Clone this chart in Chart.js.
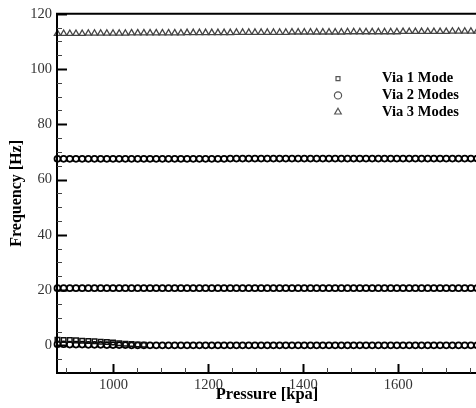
<!DOCTYPE html>
<html>
<head>
<meta charset="utf-8">
<script src="https://cdn.jsdelivr.net/npm/chart.js@4/dist/chart.umd.min.js"></script>
<style>
  html, body { margin: 0; padding: 0; background: #fff; overflow: hidden; }
  #wrap { position: relative; width: 482px; height: 408px; }
</style>
</head>
<body>
<div id="wrap"><canvas id="c" width="482" height="408"></canvas></div>
<script>
// Pressure sweep [kPa]
const pressure = [882, 895, 908, 921, 934, 947, 960, 973, 986, 999, 1012, 1025, 1038, 1051, 1064, 1077,
  1090, 1103, 1116, 1129, 1142, 1155, 1168, 1181, 1194, 1207, 1220, 1233, 1246, 1259, 1272, 1285,
  1298, 1311, 1324, 1337, 1350, 1363, 1376, 1389, 1402, 1415, 1428, 1441, 1454, 1467, 1480, 1493,
  1506, 1519, 1532, 1545, 1558, 1571, 1584, 1597, 1610, 1623, 1636, 1649, 1662, 1675, 1688, 1701,
  1714, 1727, 1740, 1753, 1766];

// Via 1 Mode: only the low-pressure end
const via1Mode = [2.0, 1.9, 1.9, 1.8, 1.7, 1.6, 1.5, 1.3, 1.2, 1.0, 0.8, 0.6, 0.5, 0.3, 0.2];

// Via 2 Modes: first, second and third frequency rows [Hz]
const via2Low = [0.4, 0.4, 0.3, 0.3, 0.3, 0.2, 0.2, 0.2, 0.1, 0.1, 0.1, 0.1, 0, 0, 0, 0,
  0, 0, 0, 0, 0, 0, 0, 0, 0, 0, 0, 0, 0, 0, 0, 0,
  0, 0, 0, 0, 0, 0, 0, 0, 0, 0, 0, 0, 0, 0, 0, 0,
  0, 0, 0, 0, 0, 0, 0, 0, 0, 0, 0, 0, 0, 0, 0, 0,
  0, 0, 0, 0, 0];
const via2Mid = [20.7, 20.7, 20.7, 20.7, 20.7, 20.7, 20.7, 20.7, 20.7, 20.7, 20.7, 20.7, 20.7, 20.7, 20.7, 20.7,
  20.7, 20.7, 20.7, 20.7, 20.7, 20.7, 20.7, 20.7, 20.7, 20.7, 20.7, 20.7, 20.7, 20.7, 20.7, 20.7,
  20.7, 20.7, 20.7, 20.7, 20.7, 20.7, 20.7, 20.7, 20.7, 20.7, 20.7, 20.7, 20.7, 20.7, 20.7, 20.7,
  20.7, 20.7, 20.7, 20.7, 20.7, 20.7, 20.7, 20.7, 20.7, 20.7, 20.7, 20.7, 20.7, 20.7, 20.7, 20.7,
  20.7, 20.7, 20.7, 20.7, 20.7];
const via2High = [67.5, 67.5, 67.5, 67.5, 67.5, 67.5, 67.5, 67.5, 67.5, 67.5, 67.5, 67.5, 67.5, 67.5, 67.5, 67.5,
  67.5, 67.5, 67.5, 67.5, 67.5, 67.5, 67.5, 67.5, 67.5, 67.5, 67.5, 67.5, 67.6, 67.6, 67.6, 67.6,
  67.6, 67.6, 67.6, 67.6, 67.6, 67.6, 67.6, 67.6, 67.6, 67.6, 67.6, 67.6, 67.6, 67.6, 67.6, 67.6,
  67.6, 67.6, 67.6, 67.6, 67.6, 67.6, 67.6, 67.6, 67.6, 67.6, 67.6, 67.6, 67.6, 67.6, 67.6, 67.6,
  67.6, 67.6, 67.6, 67.6, 67.6];

// Via 3 Modes: top row [Hz]
const via3Top = [112.8, 112.8, 112.8, 112.8, 112.8, 112.9, 112.9, 112.9, 112.9, 112.9, 112.9, 112.9, 113.0, 113.0, 113.0, 113.0,
  113.0, 113.0, 113.0, 113.0, 113.0, 113.1, 113.1, 113.1, 113.1, 113.1, 113.1, 113.1, 113.1, 113.2, 113.2, 113.2,
  113.2, 113.2, 113.2, 113.2, 113.2, 113.2, 113.3, 113.3, 113.3, 113.3, 113.3, 113.3, 113.3, 113.3, 113.3, 113.4,
  113.4, 113.4, 113.4, 113.4, 113.4, 113.4, 113.4, 113.4, 113.5, 113.5, 113.5, 113.5, 113.5, 113.5, 113.5, 113.5,
  113.6, 113.6, 113.6, 113.6, 113.6];

const xTickValues = [1000, 1200, 1400, 1600];
const yTickValues = [0, 20, 40, 60, 80, 100, 120];
const legendLabels = ['Via 1 Mode', 'Via 2 Modes', 'Via 3 Modes'];

const SERIF = '"Liberation Serif", "Times New Roman", serif';

function pts(ys) {
  return ys.map((y, i) => ({ x: pressure[i], y: y }));
}

function markerSet(label, ys, style, color, radius, width) {
  return {
    label: label,
    data: pts(ys),
    showLine: false,
    pointStyle: style,
    pointRadius: radius,
    pointBorderWidth: width,
    pointBorderColor: color,
    pointBackgroundColor: 'rgba(0,0,0,0)',
    clip: false
  };
}

// Inward ticks, frame and in-plot legend
const frameAndLegend = {
  id: 'frameAndLegend',
  afterDatasetsDraw(chart) {
    const ctx = chart.ctx;
    const a = chart.chartArea;
    const xs = chart.scales.x, ys = chart.scales.y;
    ctx.save();
    ctx.strokeStyle = '#000';
    // frame
    ctx.lineWidth = 2;
    ctx.beginPath();
    ctx.moveTo(a.right + 5, a.top);
    ctx.lineTo(a.left, a.top);
    ctx.lineTo(a.left, a.bottom);
    ctx.lineTo(a.right + 5, a.bottom);
    ctx.stroke();
    // x ticks: major every 200, minor every 50
    for (let v = 900; v <= xs.max; v += 50) {
      const px = Math.round(xs.getPixelForValue(v)) + 0.5;
      const major = v % 200 === 0;
      ctx.lineWidth = major ? 2 : 1;
      ctx.strokeStyle = major ? '#000' : '#444';
      ctx.beginPath();
      ctx.moveTo(px, a.bottom);
      ctx.lineTo(px, a.bottom - (major ? 9 : 5));
      ctx.stroke();
    }
    // y ticks: major every 20, minor every 5
    for (let v = -5; v <= ys.max; v += 5) {
      const py = Math.round(ys.getPixelForValue(v)) + 0.5;
      const major = v % 20 === 0;
      ctx.lineWidth = major ? 2 : 1;
      ctx.strokeStyle = major ? '#000' : '#444';
      ctx.beginPath();
      ctx.moveTo(a.left, py);
      ctx.lineTo(a.left + (major ? 10 : 5), py);
      ctx.stroke();
    }
    // legend
    const lx = a.left + 281, ly0 = a.top + 65, dy = 16.7, tx = a.left + 325;
    const styles = ['rect', 'circle', 'triangle'];
    const radii = [2.8, 3.6, 3.8];
    ctx.font = 'bold 14.5px ' + SERIF;
    ctx.textBaseline = 'middle';
    ctx.textAlign = 'left';
    legendLabels.forEach((lab, i) => {
      const y = ly0 + i * dy;
      ctx.fillStyle = 'rgba(0,0,0,0)';
      ctx.strokeStyle = '#555';
      ctx.lineWidth = 1.2;
      Chart.helpers.drawPoint(ctx, {
        pointStyle: styles[i], radius: radii[i], borderWidth: 1.2, rotation: 0
      }, lx, y);
      ctx.fillStyle = '#000';
      ctx.fillText(lab, tx, y);
    });
    ctx.restore();
  }
};

Chart.defaults.font.family = SERIF;

new Chart(document.getElementById('c'), {
  type: 'scatter',
  data: {
    datasets: [
      markerSet('Via 1 Mode', via1Mode, 'rect', '#111', 3.2, 1.5),
      markerSet('Via 2 Modes', via2Low, 'circle', '#000', 3, 1.7),
      markerSet('Via 2 Modes', via2Mid, 'circle', '#000', 3, 1.7),
      markerSet('Via 2 Modes', via2High, 'circle', '#000', 3, 1.7),
      markerSet('Via 3 Modes', via3Top, 'triangle', '#444', 3.6, 1.3)
    ]
  },
  options: {
    responsive: false,
    animation: false,
    devicePixelRatio: 1,
    layout: { padding: { left: 0, top: 13, right: 4, bottom: 0 } },
    plugins: { legend: { display: false }, tooltip: { enabled: false } },
    elements: { point: { hoverRadius: 3 } },
    scales: {
      x: {
        type: 'linear',
        min: 881,
        max: 1766,
        afterBuildTicks(s) { s.ticks = xTickValues.map(v => ({ value: v })); },
        afterFit(s) { s.height = 35; },
        grid: { display: false, drawTicks: false },
        border: { display: false },
        ticks: {
          color: '#333', padding: 3, maxRotation: 0,
          font: { size: 14.5, family: SERIF },
          callback: v => String(v)
        },
        title: {
          display: true, text: 'Pressure [kpa]', color: '#000',
          font: { size: 16.5, weight: 'bold', family: SERIF }, padding: { top: 0, bottom: 3 }
        }
      },
      y: {
        type: 'linear',
        min: -10,
        max: 120,
        afterBuildTicks(s) { s.ticks = yTickValues.map(v => ({ value: v })); },
        afterFit(s) { s.width = 57; },
        grid: { display: false, drawTicks: false },
        border: { display: false },
        ticks: {
          color: '#333', padding: 5,
          font: { size: 14.5, family: SERIF },
          callback: v => String(v)
        },
        title: {
          display: true, text: 'Frequency [Hz]', color: '#000',
          font: { size: 16, weight: 'bold', family: SERIF }, padding: { top: 7, bottom: 0 }
        }
      }
    }
  },
  plugins: [frameAndLegend]
});
</script>
</body>
</html>
